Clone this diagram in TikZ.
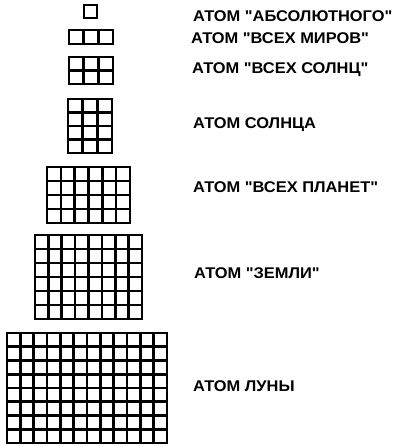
\documentclass[tikz,border=0pt]{standalone}
\usepackage{fontspec}
\newfontfamily\lblfont{Liberation Sans}[FakeStretch=1.06]
\begin{document}
\begin{tikzpicture}[x=1pt,y=-1pt,
  gridline/.style={line width=2.6pt,line cap=rect},
  lbl/.style={anchor=west,inner sep=0pt,font=\lblfont\fontsize{15.5}{15.5}\selectfont\bfseries}]
\useasboundingbox (0,0) rectangle (400,447);
\newcommand\atomgrid[6]{% x0 y0 x1 y1 cols rows
  \pgfmathsetmacro\dx{(#3-#1)/#5}
  \pgfmathsetmacro\dy{(#4-#2)/#6}
  \foreach \i in {0,...,#5} \draw[gridline] ({#1+\i*\dx},#2) -- ({#1+\i*\dx},#4);
  \foreach \j in {0,...,#6} \draw[gridline] (#1,{#2+\j*\dy}) -- (#3,{#2+\j*\dy});
}
\atomgrid{84}{5}{97}{18}{1}{1}
\atomgrid{69}{30}{113}{44}{3}{1}
\atomgrid{69}{57}{113}{84}{3}{2}
\atomgrid{68}{99}{112}{153}{3}{4}
\atomgrid{47}{167}{130}{223}{6}{4}
\atomgrid{35}{235}{142}{319}{8}{6}
\atomgrid{7}{333}{167}{443}{12}{8}
\node[lbl] (l1) at (193,16) {АТОМ "АБСОЛЮТНОГО"};
\node[lbl] (l2) at (191,38) {АТОМ "ВСЕХ МИРОВ"};
\node[lbl] (l3) at (192,70) {АТОМ "ВСЕХ СОЛНЦ"};
\node[lbl] (l4) at (193,125) {АТОМ СОЛНЦА};
\node[lbl] (l5) at (193,187) {АТОМ "ВСЕХ ПЛАНЕТ"};
\node[lbl] (l6) at (194,273) {АТОМ "ЗЕМЛИ"};
\node[lbl] (l7) at (193,386) {АТОМ ЛУНЫ};
\end{tikzpicture}
\end{document}
